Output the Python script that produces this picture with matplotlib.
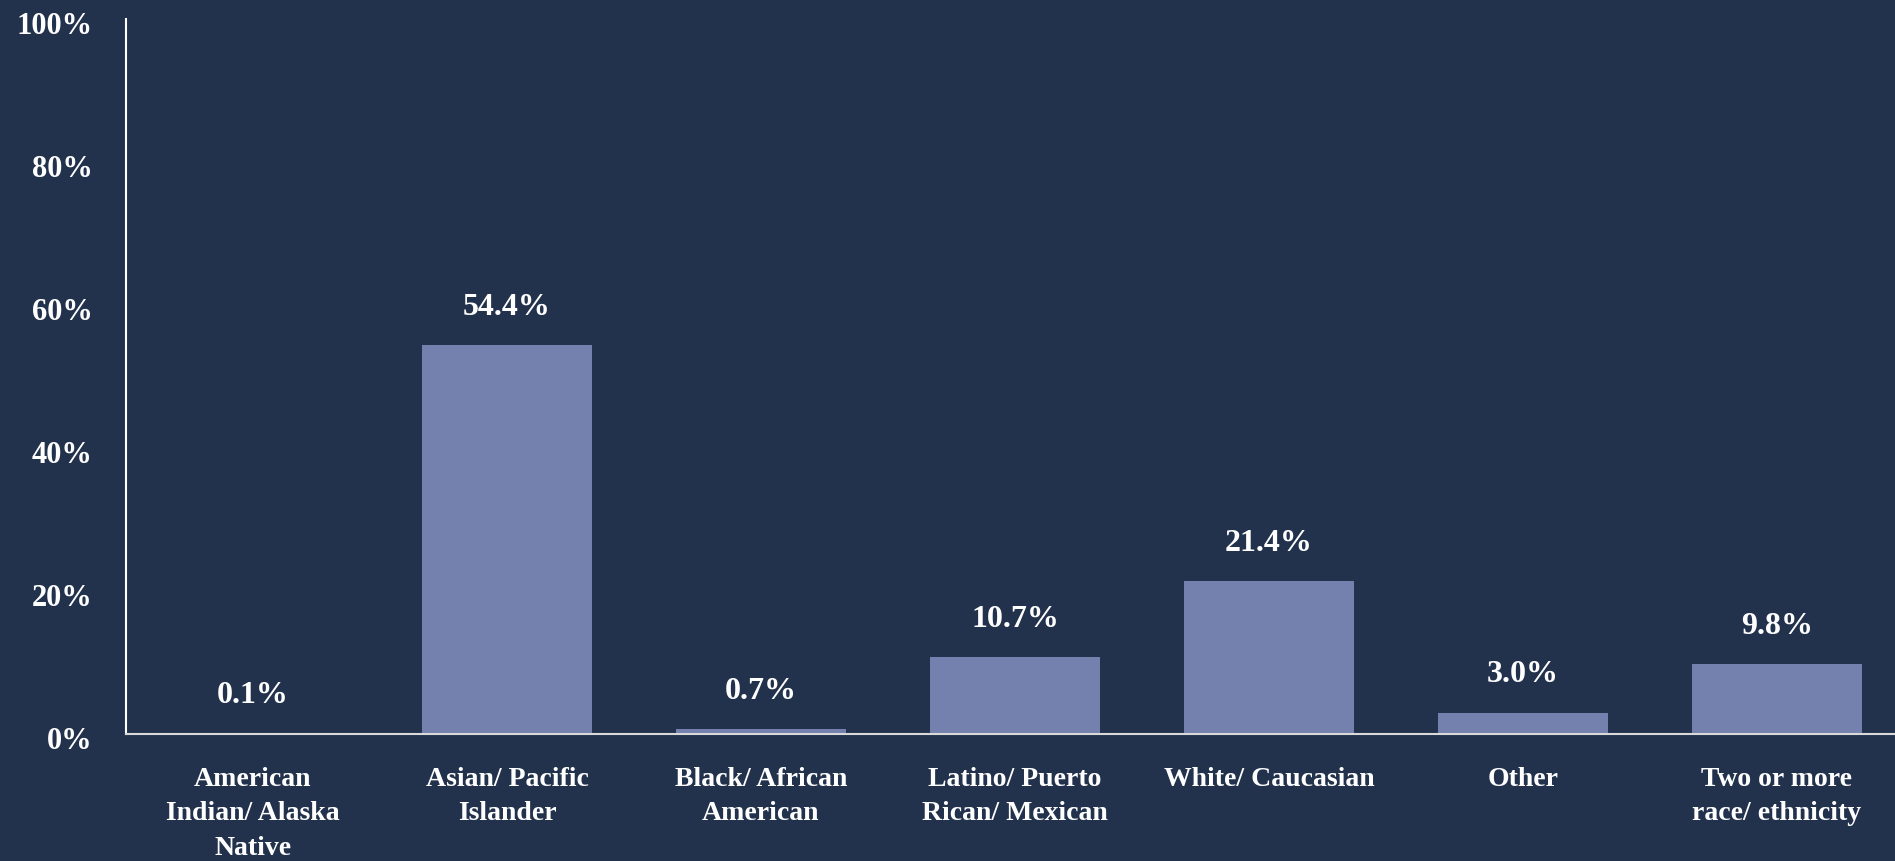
import matplotlib
matplotlib.use("Agg")
import matplotlib.pyplot as plt
from matplotlib.ticker import PercentFormatter
from matplotlib.transforms import ScaledTranslation

categories = ["American\nIndian/ Alaska\nNative", "Asian/ Pacific\nIslander",
              "Black/ African\nAmerican", "Latino/ Puerto\nRican/ Mexican",
              "White/ Caucasian", "Other", "Two or more\nrace/ ethnicity"]
values = [0.1, 54.4, 0.7, 10.7, 21.4, 3.0, 9.8]
value_labels = ["0.1%", "54.4%", "0.7%", "10.7%", "21.4%", "3.0%", "9.8%"]
yticks = [0, 20, 40, 60, 80, 100]

BG = "#22324D"
BAR = "#7480AD"
FONT = ["Liberation Serif", "DejaVu Serif"]

W, H = 1895, 862
fig = plt.figure(figsize=(W / 100, H / 100), dpi=100, facecolor=BG)
left, right, top, bottom = 126, 1904, 20, 735
ax = fig.add_axes([left / W, 1 - bottom / H, (right - left) / W, (bottom - top) / H])
ax.set_facecolor(BG)

x = list(range(len(categories)))
ax.bar(x, values, width=0.673, color=BAR, zorder=2)
ax.set_xlim(-0.5, len(categories) - 0.5)
ax.set_ylim(0, 100)

for xi, v, lab in zip(x, values, value_labels):
    ax.annotate(lab, (xi, v), xytext=(0, 28), textcoords="offset points",
                ha="center", va="center", color="white", fontsize=23,
                fontweight="bold", family=FONT)

ax.set_yticks(yticks)
ax.yaxis.set_major_formatter(PercentFormatter(decimals=0))
ax.tick_params(axis="y", length=0, pad=24, labelcolor="white", labelsize=22)
for t in ax.get_yticklabels():
    t.set_family(FONT)
    t.set_fontweight("bold")
    t.set_transform(t.get_transform() + ScaledTranslation(0, -2 / 72, fig.dpi_scale_trans))

ax.set_xticks(x)
ax.set_xticklabels(categories)
ax.tick_params(axis="x", length=0, pad=23, labelcolor="white", labelsize=20)
for t in ax.get_xticklabels():
    t.set_family(FONT)
    t.set_fontweight("semibold")
    t.set_linespacing(1.5)

for s in ["top", "right"]:
    ax.spines[s].set_visible(False)
ax.spines["left"].set_color("white")
ax.spines["left"].set_linewidth(1.5)
ax.spines["bottom"].set_color("#D9D9D9")
ax.spines["bottom"].set_linewidth(1.5)

fig.savefig("out.png", dpi=100, facecolor=BG)
